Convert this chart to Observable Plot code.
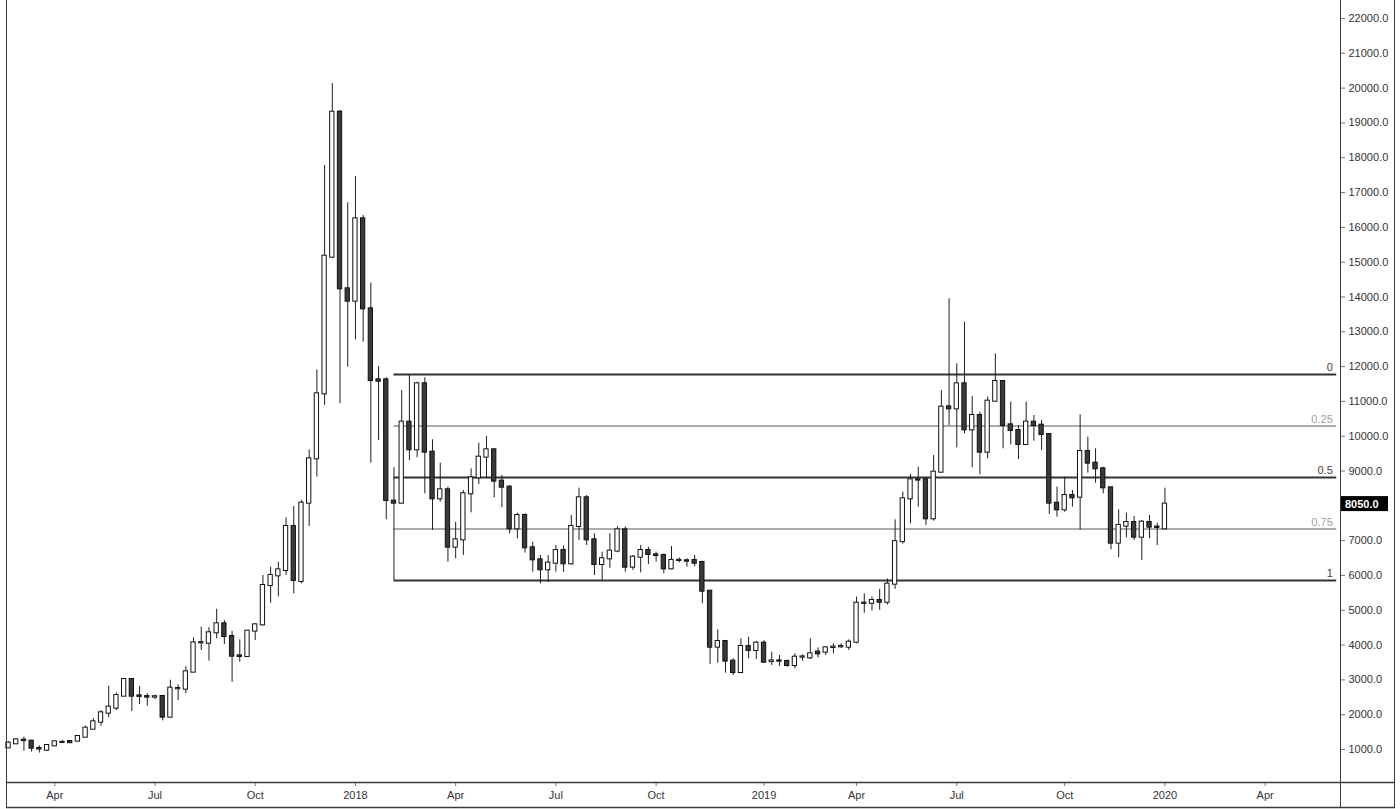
<!DOCTYPE html>
<html><head><meta charset="utf-8">
<script src="https://cdn.jsdelivr.net/npm/d3@7"></script>
<script src="https://cdn.jsdelivr.net/npm/@observablehq/plot@0.6"></script>
<style>body{margin:0;background:#fff;overflow:hidden}</style>
</head><body><div id="chart"></div>
<script>
// ---- data (weekly candles) ----
const weeks = ["2017-02-20","2017-02-27","2017-03-06","2017-03-13","2017-03-20","2017-03-27","2017-04-03","2017-04-10","2017-04-17","2017-04-24","2017-05-01","2017-05-08","2017-05-15","2017-05-22","2017-05-29","2017-06-05","2017-06-12","2017-06-19","2017-06-26","2017-07-03","2017-07-10","2017-07-17","2017-07-24","2017-07-31","2017-08-07","2017-08-14","2017-08-21","2017-08-28","2017-09-04","2017-09-11","2017-09-18","2017-09-25","2017-10-02","2017-10-09","2017-10-16","2017-10-23","2017-10-30","2017-11-06","2017-11-13","2017-11-20","2017-11-27","2017-12-04","2017-12-11","2017-12-18","2017-12-25",
"2018-01-01","2018-01-08","2018-01-15","2018-01-22","2018-01-29","2018-02-05","2018-02-12","2018-02-19","2018-02-26","2018-03-05","2018-03-12","2018-03-19","2018-03-26","2018-04-02","2018-04-09","2018-04-16","2018-04-23","2018-04-30","2018-05-07","2018-05-14","2018-05-21","2018-05-28","2018-06-04","2018-06-11","2018-06-18","2018-06-25","2018-07-02","2018-07-09","2018-07-16","2018-07-23","2018-07-30","2018-08-06","2018-08-13","2018-08-20","2018-08-27","2018-09-03","2018-09-10","2018-09-17","2018-09-24","2018-10-01","2018-10-08","2018-10-15","2018-10-22","2018-10-29","2018-11-05","2018-11-12","2018-11-19","2018-11-26","2018-12-03","2018-12-10","2018-12-17","2018-12-24","2018-12-31",
"2019-01-07","2019-01-14","2019-01-21","2019-01-28","2019-02-04","2019-02-11","2019-02-18","2019-02-25","2019-03-04","2019-03-11","2019-03-18","2019-03-25","2019-04-01","2019-04-08","2019-04-15","2019-04-22","2019-04-29","2019-05-06","2019-05-13","2019-05-20","2019-05-27","2019-06-03","2019-06-10","2019-06-17","2019-06-24","2019-07-01","2019-07-08","2019-07-15","2019-07-22","2019-07-29","2019-08-05","2019-08-12","2019-08-19","2019-08-26","2019-09-02","2019-09-09","2019-09-16","2019-09-23","2019-09-30","2019-10-07","2019-10-14","2019-10-21","2019-10-28","2019-11-04","2019-11-11","2019-11-18","2019-11-25","2019-12-02","2019-12-09","2019-12-16","2019-12-23","2019-12-30",
"2020-01-06"];

const open = [1048,1163,1268,1240,1030,980,1105,1200,1230,1240,1354,1584,1785,2044,2187,2532,3011,2540,2520,2505,2523,1929,2745,2733,3222,4064,4054,4352,4610,4246,3690,3672,4400,4581,5711,5989,6142,7406,5827,8077,9350,11217,15143,19309,14234,
13880,16245,13659,11620,11620,8134,8077,10404,9609,11505,9542,8201,8460,6813,7023,8345,8804,9398,9609,8709,8536,7340,7722,6794,6449,6162,6353,6717,6334,7406,8230,7023,6315,6478,6698,7310,6238,6525,6717,6590,6573,6190,6430,6420,6430,6372,5548,3940,4103,3538,3212,3959,3844,
4055,3530,3545,3528,3413,3652,3633,3800,3796,3930,3950,3940,4083,5204,5200,5280,5230,5750,6970,8201,8747,8747,7627,8967,10843,10786,11505,10183,10595,9542,11007,11572,10327,10164,9762,10404,10318,10049,8077,7885,8297,8249,9561,9226,9063,8517,6928,7416,7521,7100,7521,7390,
7339];

const high = [1220,1297,1354,1268,1105,1144,1240,1260,1245,1402,1670,1890,2120,2820,2620,3040,3020,2810,2600,2560,2550,2990,2860,3375,4208,4514,4500,5031,4705,4390,4150,4420,4610,5999,6238,6382,7655,7980,8153,9609,11907,17777,20130,19357,16705,
17461,16341,14397,12003,11680,9092,11313,11745,11553,11677,9896,9226,8536,7531,8440,9063,9800,9992,9637,8871,8584,7790,7770,6956,6573,6573,6861,6851,7722,8508,8297,7196,6669,7196,7400,7390,6573,6861,6813,6669,6621,6832,6500,6480,6573,6410,5568,4438,4131,3605,4179,4227,4103,
4131,3796,3700,3570,3748,3720,4179,3920,3960,4035,4035,4150,5376,5472,5380,5600,5900,7598,8393,8900,9111,8800,9446,11313,13947,12080,13277,11141,10691,11122,12367,11600,10978,10308,10978,10595,10452,10070,8537,8824,8441,10614,9973,9638,9111,8536,7885,7789,7694,7579,7723,7502,
8508];

const low = [1029,1144,952,923,895,943,1095,1180,1185,1220,1354,1575,1670,1910,2120,2520,2092,2293,2245,2427,1823,1910,2408,2600,3202,3844,3538,4180,4016,2934,3509,3640,4131,4550,5200,5385,5999,5472,5760,7406,8824,10883,15100,10930,11984,
12769,12702,9226,9877,7598,5855,8060,9300,9380,8345,7291,8105,6382,6478,6574,7799,8613,8804,8230,7943,7196,7052,6641,6094,5760,5798,6094,6085,6300,7004,6861,5999,5855,6210,6650,6094,6142,6075,6315,6382,6047,6161,6360,6240,6250,5185,3442,3480,3193,3126,3193,3605,3585,
3490,3413,3385,3365,3317,3538,3585,3633,3700,3748,3900,3844,4035,4917,4980,5000,5150,5600,6900,7483,7962,7435,7560,8938,10308,9667,10068,9092,8891,9350,10990,9639,9753,9331,9740,9858,9590,7751,7674,7818,7962,7311,8939,8651,8345,6737,6506,7081,7004,6430,7052,6858,
7330];

const close = [1182,1278,1255,1038,1015,1115,1220,1205,1195,1373,1613,1795,2053,2216,2551,3011,2532,2525,2505,2515,1929,2762,2752,3231,4064,4070,4352,4610,4246,3681,3672,4400,4581,5711,5999,6161,7406,5855,8077,9350,11217,15172,19309,14234,13880,
16245,13659,11600,11580,8153,8077,10404,9609,11505,9542,8201,8460,6813,7023,8345,8804,9398,9609,8709,8536,7340,7722,6794,6449,6162,6353,6717,6334,7406,8230,7023,6315,6478,6698,7310,6238,6525,6717,6602,6573,6190,6430,6435,6410,6353,5548,3940,4103,3538,3212,3959,3844,4055,
3509,3545,3538,3413,3652,3660,3748,3748,3920,3940,3960,4083,5204,5200,5280,5230,5750,6970,8201,8747,8740,7627,8967,10834,10786,11505,10183,10595,9542,11007,11572,10308,10164,9762,10404,10308,10049,8077,7885,8297,8230,9561,9226,9063,8517,6928,7435,7521,7100,7531,7387,7380,
8050];

// axis ticks (8000.0 is hidden behind the last-price badge in the reference)
const timeTicks = ["2017-04-03","2017-07-03","2017-10-02","2018-01-01","2018-04-02","2018-07-02","2018-10-01","2019-01-07","2019-04-01","2019-07-01","2019-10-07","2020-01-06","2020-04-06"];
const timeTickLabels = ["Apr","Jul","Oct","2018","Apr","Jul","Oct","2019","Apr","Jul","Oct","2020","Apr"];
const priceTicks = [1000,2000,3000,4000,5000,6000,7000,9000,10000,11000,12000,13000,14000,15000,16000,17000,18000,19000,20000,21000,22000];

// fibonacci retracement drawn on the chart
const fibRatios = ["0","0.25","0.5","0.75","1"];
const fibPrices = [11773,10294,8814,7334,5855];
const fibStart = "2018-02-05";
const fibEnd = "2020-06-10";

const lastPrice = 8050;

// ---- build tables ----
const candles = weeks.map((w, i) => ({date: new Date(w), open: open[i], high: high[i], low: low[i], close: close[i]}));
const fib = fibRatios.map((r, i) => ({r, price: fibPrices[i], start: new Date(fibStart), end: new Date(fibEnd)}));
const tickLabelByTime = new Map(timeTicks.map((d, i) => [+new Date(d), timeTickLabels[i]]));

const DAY = 864e5;
const first = +new Date(weeks[0]);
const HALF = 1.95 * DAY;
const minor = r => r === "0.25" || r === "0.75";
const FONT = "'Liberation Sans', Arial, sans-serif";

const plot = Plot.plot({
  width: 1400, height: 809,
  marginLeft: 6, marginRight: 60, marginTop: 0, marginBottom: 27,
  style: {fontFamily: FONT, fontSize: "11px", color: "#333", background: "#fff"},
  x: {type: "utc", domain: [new Date(first - 1.82 * DAY), new Date(first + 1209.4 * DAY)]},
  y: {domain: [52, 22517]},
  marks: [
    Plot.ruleY(fib, {y: "price", x1: "start", x2: "end", stroke: d => minor(d.r) ? "#ababab" : "#333", strokeWidth: 2}),
    Plot.text(fib, {x: "end", y: "price", text: "r", textAnchor: "end", dx: -4, dy: -7, fill: d => minor(d.r) ? "#a0a0a0" : "#444", fontSize: 11}),
    Plot.ruleX(candles, {x: "date", y1: "low", y2: "high", stroke: "#1e1e1e", strokeWidth: 1}),
    Plot.rect(candles, {
      x1: d => new Date(+d.date - HALF), x2: d => new Date(+d.date + HALF),
      y1: d => Math.min(d.open, d.close), y2: d => Math.max(d.open, d.close),
      fill: d => d.close >= d.open ? "#ffffff" : "#3a3a3a",
      stroke: "#111", strokeWidth: 1, insetTop: -0.5, insetBottom: -0.5
    }),
    Plot.axisY({anchor: "right", ticks: priceTicks, tickFormat: d => d.toFixed(1), tickSize: 4, tickPadding: 4, stroke: "#777", fill: "#333", label: null, fontSize: 11}),
    Plot.axisX({ticks: timeTicks.map(d => new Date(d)), tickFormat: d => tickLabelByTime.get(+d), tickSize: 4, tickPadding: 5, stroke: "#777", fill: "#333", label: null, fontSize: 11})
  ]
});

// chart chrome (frame lines) and last-price badge
const svg = d3.select(plot);
const ys = plot.scale("y");
const L = 6, R = 1340, B = 782, OR = 1394, OB = 808;
const chrome = svg.append("g").attr("stroke", "#3c3c3c").attr("fill", "none");
chrome.append("line").attr("x1", L + 0.5).attr("x2", L + 0.5).attr("y1", 0).attr("y2", OB);
chrome.append("line").attr("x1", R + 0.5).attr("x2", R + 0.5).attr("y1", 0).attr("y2", OB);
chrome.append("line").attr("x1", OR + 0.5).attr("x2", OR + 0.5).attr("y1", 0).attr("y2", OB);
chrome.append("line").attr("x1", L).attr("x2", OR + 1).attr("y1", B + 0.5).attr("y2", B + 0.5).attr("stroke-width", 1.5);
chrome.append("line").attr("x1", L).attr("x2", OR + 1).attr("y1", OB - 0.5).attr("y2", OB - 0.5).attr("stroke-width", 1.5);

const py = ys.apply(lastPrice);
const badge = svg.append("g");
badge.append("rect").attr("x", R + 1).attr("y", py - 7.5).attr("width", 47).attr("height", 15).attr("fill", "#000");
badge.append("text").attr("x", R + 5).attr("y", py).attr("dy", "0.36em").attr("fill", "#fff")
  .attr("text-anchor", "start").attr("font-weight", "bold").attr("font-size", 11).attr("font-family", FONT)
  .text(lastPrice.toFixed(1));

document.getElementById("chart").append(plot);
</script>
</body></html>
